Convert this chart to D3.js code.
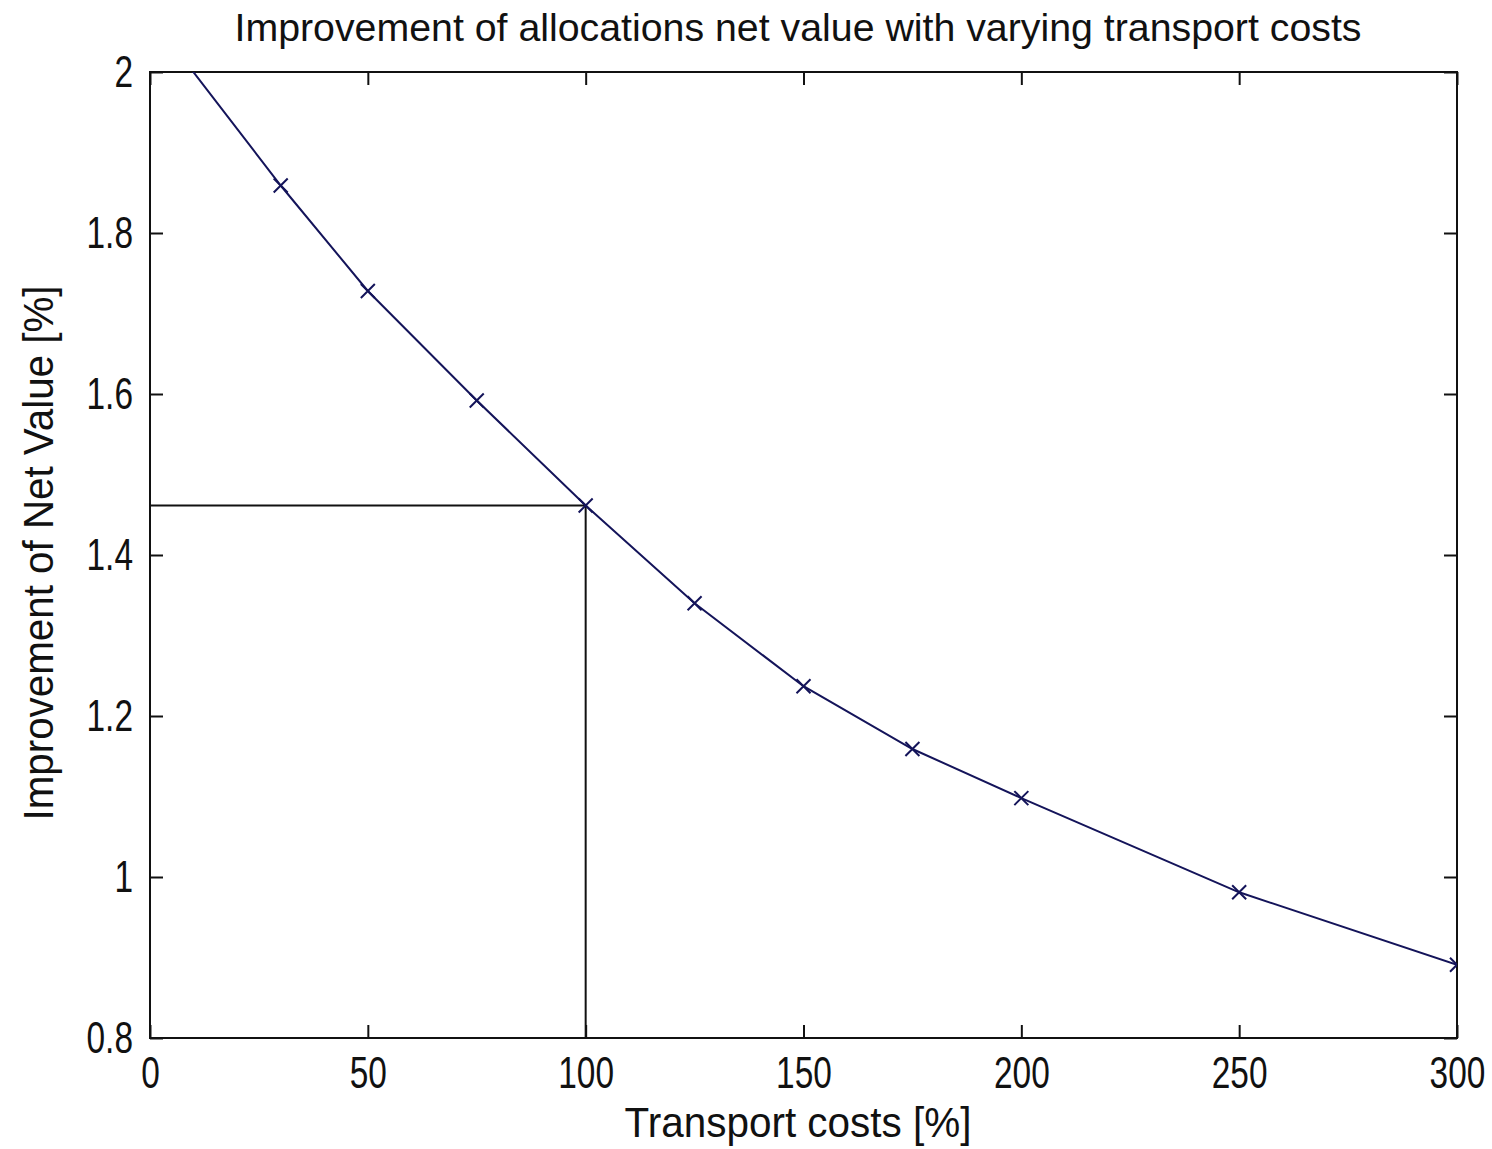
<!DOCTYPE html>
<html>
<head>
<meta charset="utf-8">
<title>Improvement of allocations net value</title>
<style>
  body { margin: 0; background: #fff; }
  text { font-family: "Liberation Sans", Arial, sans-serif; fill: #111; }
</style>
</head>
<body>
<script src="https://d3js.org/d3.v7.min.js"></script>
<script>
// values
var costs       = [0, 30, 50, 75, 100, 125, 150, 175, 200, 250, 300];
var improvement = [2.07, 1.859, 1.728, 1.592, 1.4615, 1.34, 1.237, 1.159, 1.098, 0.981, 0.891];
var xTicks = [0, 50, 100, 150, 200, 250, 300];
var yTicks = [0.8, 1, 1.2, 1.4, 1.6, 1.8, 2];
var refCost = 100, refValue = 1.4615;

var W = 1492, H = 1149;
var margin = {top: 72, right: 35, bottom: 111, left: 150},
    width  = W - margin.left - margin.right,
    height = H - margin.top - margin.bottom;

var svg = d3.select("body").append("svg")
    .attr("width", W)
    .attr("height", H);

var chart = svg.append("g")
    .attr("transform", "translate(" + margin.left + "," + margin.top + ")");

var x = d3.scaleLinear().domain([0, 300]).range([0, width]);
var y = d3.scaleLinear().domain([0.8, 2]).range([height, 0]);

svg.append("defs").append("clipPath").attr("id", "plotclip")
  .append("rect").attr("width", width).attr("height", height);

// squeeze text horizontally so it looks like the narrow MATLAB font
function narrow(sel, k) {
  sel.each(function(){
    var w = this.getComputedTextLength();
    d3.select(this).attr("textLength", w * k).attr("lengthAdjust", "spacingAndGlyphs");
  });
}

// axes with inward ticks
function styleAxis(g, hideText) {
  g.select(".domain").remove();
  g.selectAll(".tick line").attr("stroke", "#111").attr("stroke-width", 2);
  if (hideText) g.selectAll(".tick text").remove();
}

chart.append("g")
    .attr("transform", "translate(0," + height + ")")
    .call(d3.axisBottom(x).tickValues(xTicks).tickSizeInner(-13).tickSizeOuter(0).tickPadding(19))
    .call(styleAxis, false)
    .selectAll(".tick text").attr("font-size", 44).attr("fill", "#111")
    .attr("font-family", "Liberation Sans, Arial, sans-serif")
    .call(narrow, 0.76);

chart.append("g")
    .call(d3.axisTop(x).tickValues(xTicks).tickSizeInner(-13).tickSizeOuter(0))
    .call(styleAxis, true);

chart.append("g")
    .call(d3.axisLeft(y).tickValues(yTicks).tickFormat(d3.format("")).tickSizeInner(-13).tickSizeOuter(0).tickPadding(17))
    .call(styleAxis, false)
    .selectAll(".tick text").attr("font-size", 44).attr("fill", "#111")
    .attr("font-family", "Liberation Sans, Arial, sans-serif")
    .call(narrow, 0.76);

chart.append("g")
    .attr("transform", "translate(" + width + ",0)")
    .call(d3.axisRight(y).tickValues(yTicks).tickSizeInner(-13).tickSizeOuter(0))
    .call(styleAxis, true);

// frame
chart.append("rect")
    .attr("width", width).attr("height", height)
    .attr("fill", "none").attr("stroke", "#111").attr("stroke-width", 2);

// reference lines at 100 %
chart.append("path")
    .attr("d", d3.line()([[x(0), y(refValue)], [x(refCost), y(refValue)], [x(refCost), y(0.8)]]))
    .attr("fill", "none").attr("stroke", "#111").attr("stroke-width", 2);

var data = costs.map(function(c, i){ return [c, improvement[i]]; });
var plot = chart.append("g").attr("clip-path", "url(#plotclip)");

plot.append("path")
    .datum(data)
    .attr("d", d3.line().x(function(d){ return x(d[0]); }).y(function(d){ return y(d[1]); }))
    .attr("fill", "none").attr("stroke", "#14145a").attr("stroke-width", 2);

var m = 7;
plot.selectAll(".mark")
    .data(data)
    .enter().append("path")
    .attr("class", "mark")
    .attr("transform", function(d){ return "translate(" + x(d[0]) + "," + y(d[1]) + ")"; })
    .attr("d", "M" + (-m) + "," + (-m) + "L" + m + "," + m + "M" + (-m) + "," + m + "L" + m + "," + (-m))
    .attr("stroke", "#14145a").attr("stroke-width", 2);

// titles
svg.append("text")
    .attr("x", 798).attr("y", 41)
    .attr("text-anchor", "middle")
    .attr("font-size", 39)
    .attr("textLength", 1127).attr("lengthAdjust", "spacingAndGlyphs")
    .text("Improvement of allocations net value with varying transport costs");

svg.append("text")
    .attr("x", 798).attr("y", 1137)
    .attr("text-anchor", "middle")
    .attr("font-size", 42)
    .attr("textLength", 347).attr("lengthAdjust", "spacingAndGlyphs")
    .text("Transport costs [%]");

svg.append("text")
    .attr("transform", "translate(53,553) rotate(-90)")
    .attr("text-anchor", "middle")
    .attr("font-size", 42)
    .attr("textLength", 535).attr("lengthAdjust", "spacingAndGlyphs")
    .text("Improvement of Net Value [%]");
</script>
</body>
</html>
